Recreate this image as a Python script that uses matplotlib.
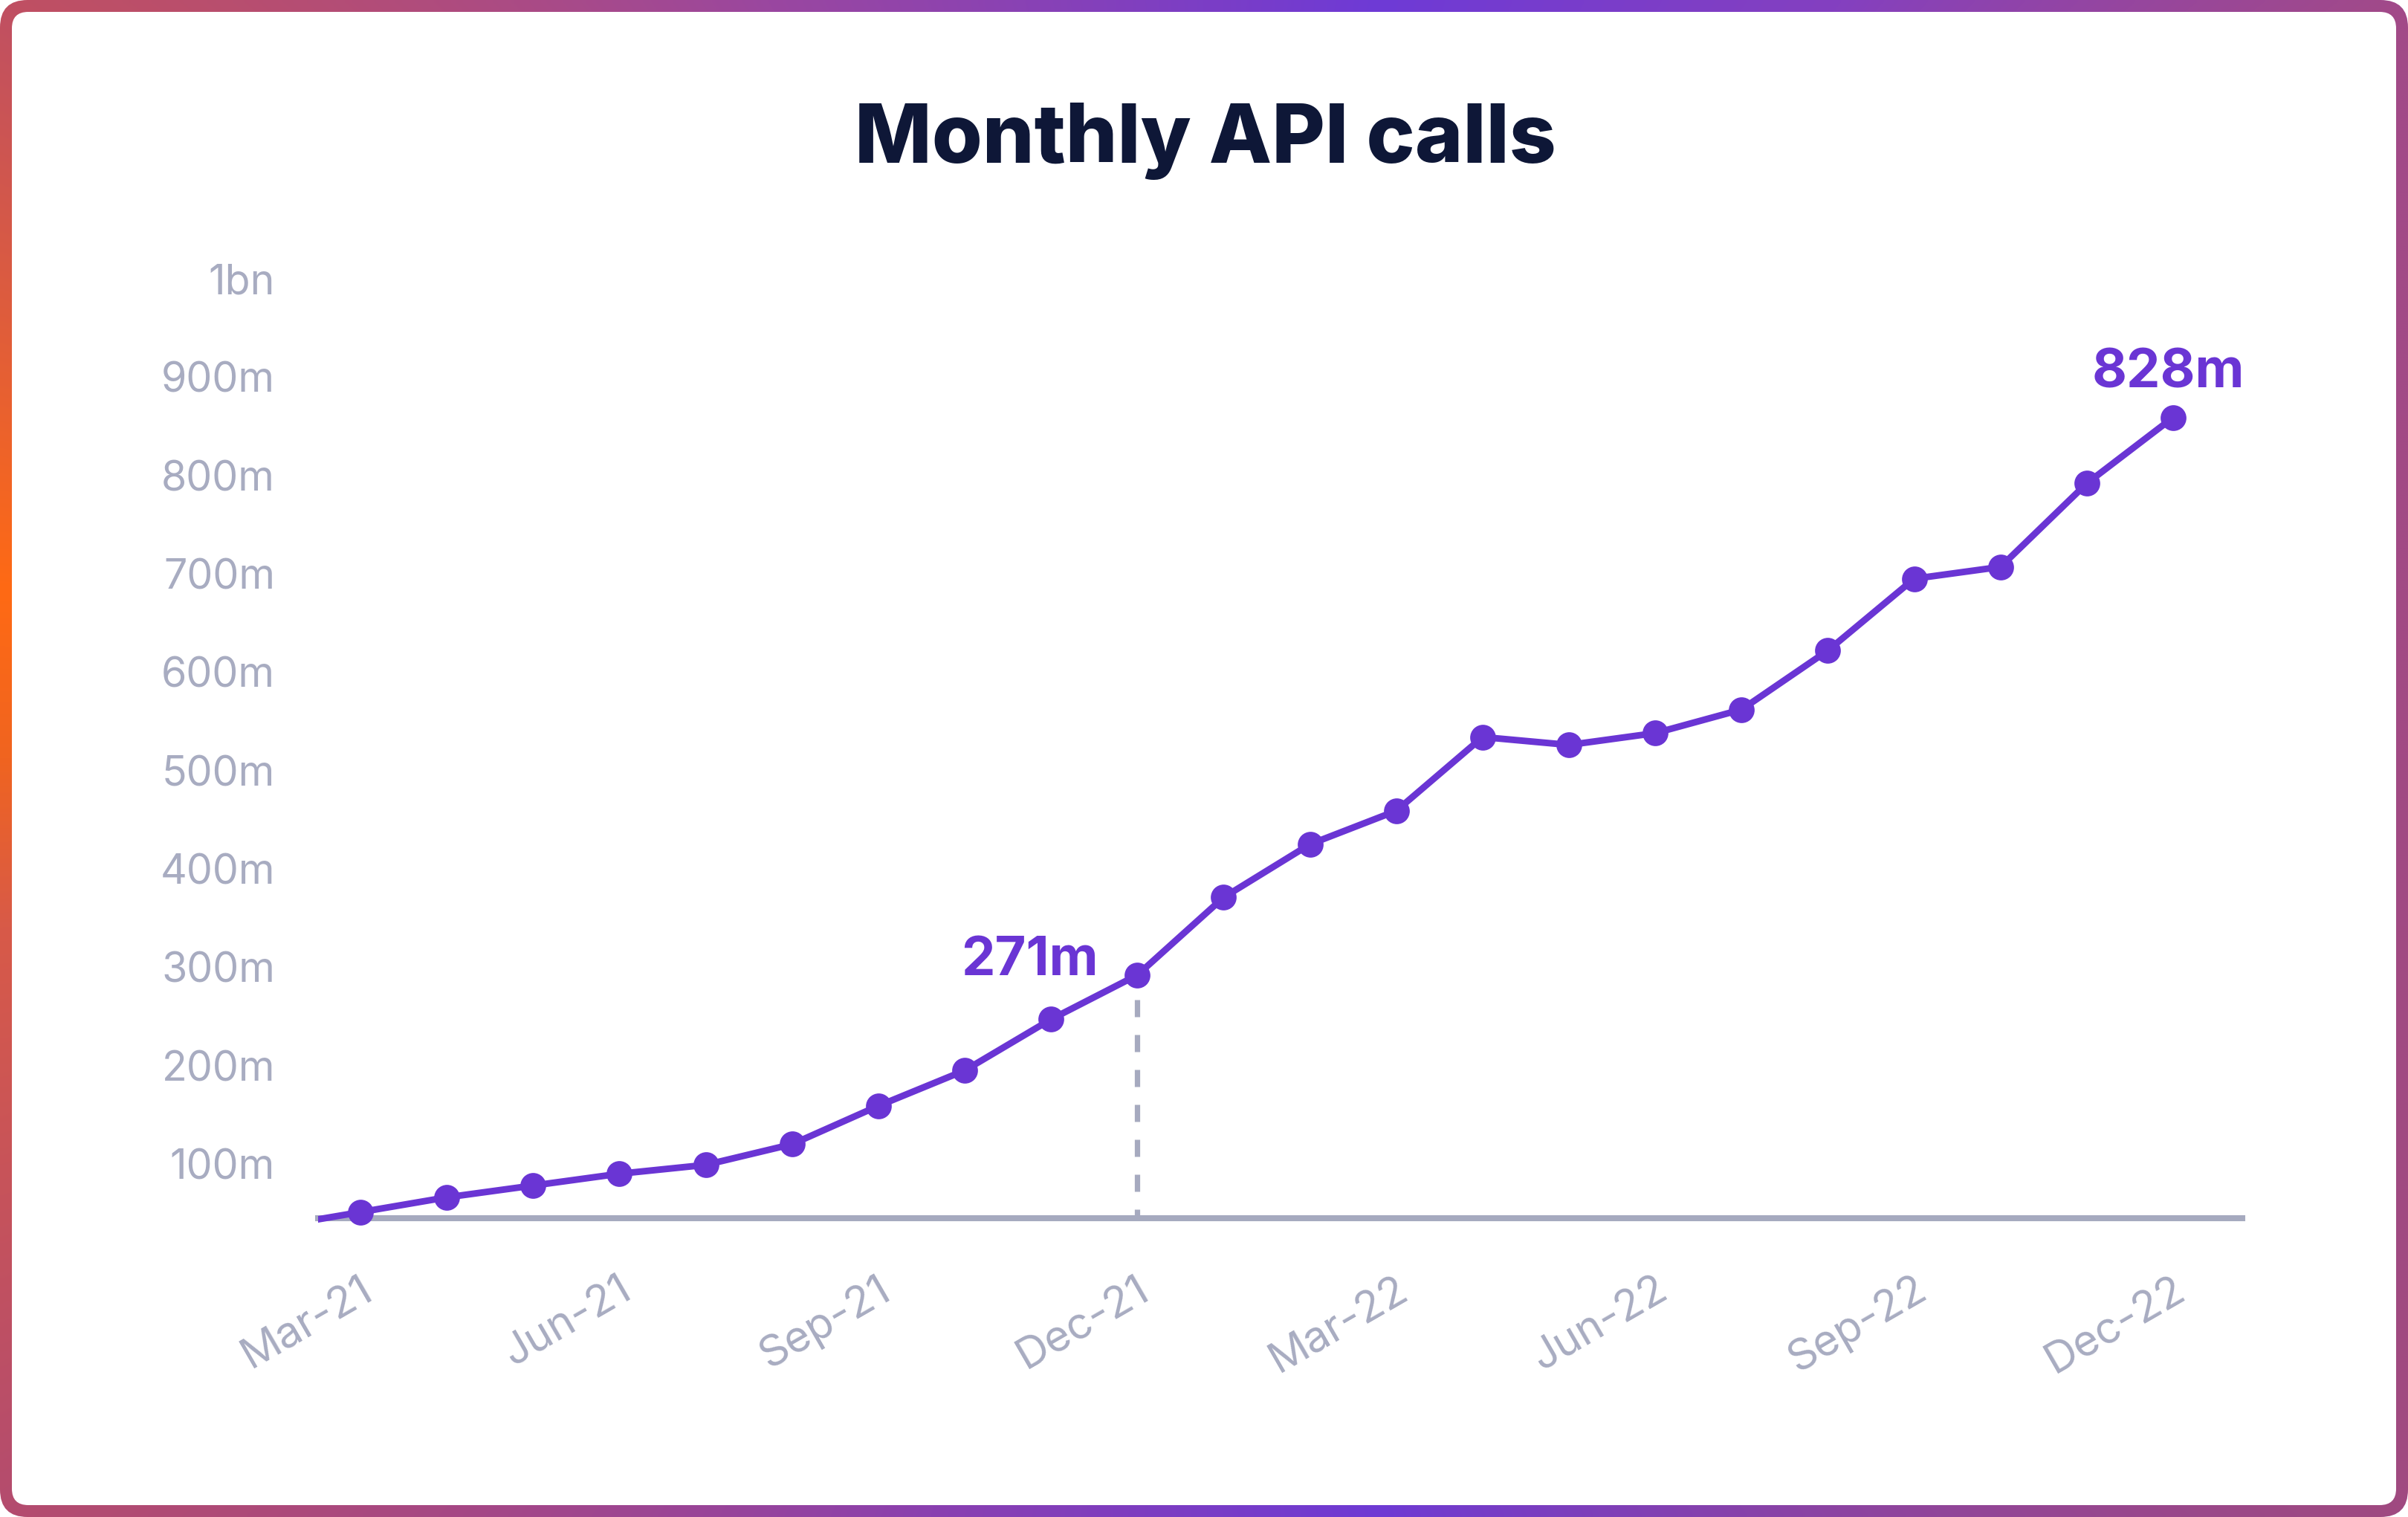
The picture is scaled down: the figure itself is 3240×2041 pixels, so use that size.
import numpy as np
import matplotlib.pyplot as plt
import matplotlib.transforms as mtransforms
from matplotlib.patches import FancyBboxPatch, Rectangle
from matplotlib.colors import to_rgb

plt.rcParams['font.family'] = ['Inter', 'DejaVu Sans']

# data (millions)
months = ["Feb-21", "Mar-21", "Apr-21", "May-21", "Jun-21", "Jul-21", "Aug-21",
          "Sep-21", "Oct-21", "Nov-21", "Dec-21", "Jan-22", "Feb-22", "Mar-22",
          "Apr-22", "May-22", "Jun-22", "Jul-22", "Aug-22", "Sep-22", "Oct-22",
          "Nov-22", "Dec-22"]
calls = [36, 51, 66, 78, 90, 99, 120, 159, 195, 247, 292, 371, 425, 459,
         534, 526, 538, 562, 622, 695, 707, 792, 859]
tick_months = ["Mar-21", "Jun-21", "Sep-21", "Dec-21", "Mar-22", "Jun-22", "Sep-22", "Dec-22"]
y_ticks = [100, 200, 300, 400, 500, 600, 700, 800, 900, 1000]
y_labels = ["100m", "200m", "300m", "400m", "500m", "600m", "700m", "800m", "900m", "1bn"]
callouts = {"Dec-21": "271m", "Dec-22": "828m"}

PURPLE = "#6a35d4"
GRAY = "#a6aabf"
GRAY_TXT = "#a8acc1"
NAVY = "#0e1737"

W, H = 3240, 2041
fig = plt.figure(figsize=(W / 200, H / 200), dpi=200, facecolor="white")

# gradient border
bg = fig.add_axes([0, 0, 1, 1], zorder=-1)
bg.set_xlim(0, W)
bg.set_ylim(0, H)
bg.axis("off")
gy, gx = np.mgrid[0:H:6, 0:W:6]
ang = np.degrees(np.arctan2(gy - H / 2, gx - W / 2))
stops = [(-180, "#f06420"), (-172, "#d85a48"), (-148, "#b44c6e"), (-110, "#8a40b0"),
         (-77, "#6e3ad4"), (-32, "#a04a80"), (0, "#a24a84"), (32, "#a24a88"),
         (50, "#8440c0"), (77, "#6e3ad6"), (120, "#9a47a0"), (148, "#c05062"),
         (172, "#ff6a14"), (180, "#f06420")]
sa = [s[0] for s in stops]
sc = np.array([to_rgb(s[1]) for s in stops])
img = np.dstack([np.interp(ang, sa, sc[:, k]) for k in range(3)])
outer = FancyBboxPatch((0, 0), W, H, boxstyle="round,pad=0,rounding_size=37",
                       fc="none", ec="none")
bg.add_patch(outer)
im = bg.imshow(img, extent=(0, W, 0, H), origin="lower", interpolation="bilinear", aspect="auto")
im.set_clip_path(outer)
bg.add_patch(FancyBboxPatch((16, 16), W - 32, H - 32, boxstyle="round,pad=0,rounding_size=22",
                            fc="white", ec="none"))

# chart
ax = fig.add_axes([428 / W, 1 - 1639 / H, (3017 - 428) / W, (1639 - 375) / H])
ax.patch.set_alpha(0)
x = np.arange(len(months))
ax.set_xlim(0.51, 22.8)
ax.set_ylim(44.8, 1000)

line, = ax.plot(x, calls, color=PURPLE, lw=3.2, zorder=3)
line.set_clip_path(Rectangle((0, -0.2), 1, 1.4, transform=ax.transAxes))
vis = x >= ax.get_xlim()[0]
ax.plot(x[vis], np.array(calls)[vis], "o", ms=11.5, color=PURPLE, zorder=4, clip_on=False)

# dashed drop line at the first callout
i = months.index("Dec-21")
lw = 2.6
px = 72 / 200 / lw
ax.plot([x[i], x[i]], [ax.get_ylim()[0], calls[i]], color=GRAY, lw=lw, zorder=2.6,
        linestyle=(11 * px, (23 * px, 24 * px)))

for sp in ["top", "right", "left"]:
    ax.spines[sp].set_visible(False)
ax.spines["bottom"].set_color(GRAY)
ax.spines["bottom"].set_linewidth(2.9)
ax.spines["bottom"].set_zorder(2.5)

ax.set_yticks(y_ticks)
ax.set_yticklabels(y_labels, fontsize=20, color=GRAY_TXT)
ax.set_xticks([months.index(m) for m in tick_months])
ax.set_xticklabels(tick_months, rotation=30, ha="right", va="baseline",
                   rotation_mode="anchor", fontsize=21, color=GRAY_TXT)
ax.tick_params(axis="y", length=0, pad=20.9)
ax.tick_params(axis="x", length=0, pad=38)
shift = mtransforms.ScaledTranslation(0.1, 0.0, fig.dpi_scale_trans)
for lab in ax.get_xticklabels():
    lab.set_transform(lab.get_transform() + shift)

m = "Dec-21"
ax.annotate(callouts[m], xy=(months.index(m), calls[months.index(m)]), xytext=(-19, 0),
            textcoords="offset points", ha="right", va="baseline",
            fontsize=26, fontweight="bold", color=PURPLE)
m = "Dec-22"
ax.annotate(callouts[m], xy=(months.index(m), calls[months.index(m)]), xytext=(-2.5, 14.4),
            textcoords="offset points", ha="center", va="baseline",
            fontsize=26, fontweight="bold", color=PURPLE)

fig.text(1622 / W, 1 - 219 / H, "Monthly API calls", ha="center", va="baseline",
         fontsize=39.6, fontweight="heavy", color=NAVY)

fig.savefig("out.png", dpi=200)
